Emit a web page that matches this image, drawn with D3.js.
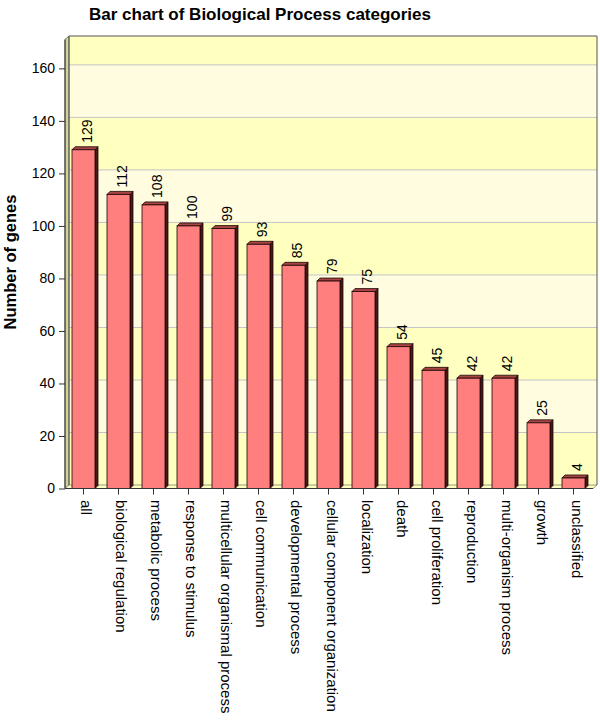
<!DOCTYPE html>
<html>
<head>
<meta charset="utf-8">
<script src="https://cdn.jsdelivr.net/npm/d3@7"></script>
<style>
  body { margin: 0; background: #fff; }
  text { font-family: "Liberation Sans", Arial, sans-serif; fill: #000; }
</style>
</head>
<body>
<svg id="chart" width="600" height="726"></svg>
<script>
let categories = ["all", "biological regulation", "metabolic process", "response to stimulus",
    "multicellular organismal process", "cell communication", "developmental process",
    "cellular component organization", "localization", "death", "cell proliferation",
    "reproduction", "multi-organism process", "growth", "unclassified"];
let counts = [129, 112, 108, 100, 99, 93, 85, 79, 75, 54, 45, 42, 42, 25, 4];
let yTicks = [0, 20, 40, 60, 80, 100, 120, 140, 160];

let svg = d3.select("#chart");
let g = svg.append("g");

// depth of the fake 3d back plane
let dx = 4, dy = -3.5;
let pLeft = 65, pRight = 593, pBottom = 488.5, pTop = 39.5;

let x = d3.scaleBand()
    .domain(categories)
    .range([pLeft, pRight - 1])
    .paddingInner(0.343)
    .paddingOuter(0.2);
let y = d3.scaleLinear()
    .domain([0, 171])
    .range([pBottom, pTop]);

// title
svg.append("text")
    .attr("x", 260).attr("y", 20)
    .attr("text-anchor", "middle")
    .style("font-weight", "bold")
    .style("font-size", "17px")
    .text("Bar chart of Biological Process categories");

// back plane with alternating bands
let bandEdges = yTicks.concat([171]);
for (let i = 0; i < bandEdges.length - 1; i++) {
    let y0 = y(bandEdges[i]) + dy, y1 = y(bandEdges[i + 1]) + dy;
    g.append("rect")
        .attr("x", pLeft + dx).attr("y", y1)
        .attr("width", pRight - pLeft).attr("height", y0 - y1)
        .style("fill", i % 2 === 0 ? "#ffffbf" : "#fffce0");
}
g.selectAll(".grid")
    .data(yTicks.slice(1))
    .enter().append("line")
    .attr("x1", pLeft + dx).attr("x2", pRight + dx)
    .attr("y1", d => y(d) + dy).attr("y2", d => y(d) + dy)
    .style("stroke", "#c4c4c4");

// left wall and floor
g.append("path")
    .attr("d", d3.line()([[pLeft, pTop], [pLeft + dx, pTop + dy], [pLeft + dx, pBottom + dy], [pLeft, pBottom]]) + "Z")
    .style("fill", "#d2d29a").style("stroke", "#7a7a6a");
g.append("path")
    .attr("d", d3.line()([[pLeft, pBottom], [pLeft + dx, pBottom + dy], [pRight + dx, pBottom + dy], [pRight, pBottom]]) + "Z")
    .style("fill", "#ffffbf").style("stroke", "#9a9a80");
// back frame
g.append("path")
    .attr("d", d3.line()([[pLeft + dx, pBottom + dy], [pLeft + dx, pTop + dy], [pRight + dx, pTop + dy], [pRight + dx, pBottom + dy]]))
    .style("fill", "none").style("stroke", "#555");

// bars
let bw = x.bandwidth(), side = 3;
let bars = g.append("g").selectAll("g")
    .data(categories)
    .enter().append("g");
bars.append("path")
    .attr("d", (d, i) => {
        let x0 = x(d) + bw, yt = y(counts[i]);
        return d3.line()([[x0, yt], [x0 + side, yt - side], [x0 + side, pBottom - side], [x0, pBottom]]) + "Z";
    })
    .style("fill", "#4a1818").style("stroke", "#1a0505").style("stroke-width", 0.8);
bars.append("path")
    .attr("d", (d, i) => {
        let x0 = x(d), yt = y(counts[i]);
        return d3.line()([[x0, yt], [x0 + side, yt - side], [x0 + bw + side, yt - side], [x0 + bw, yt]]) + "Z";
    })
    .style("fill", "#a84444").style("stroke", "#1a0505").style("stroke-width", 0.8);
bars.append("rect")
    .attr("x", d => x(d))
    .attr("y", (d, i) => y(counts[i]))
    .attr("width", bw)
    .attr("height", (d, i) => pBottom - y(counts[i]))
    .style("fill", "#ff7f7f").style("stroke", "#1a0505").style("stroke-width", 0.8);

// value labels
bars.append("text")
    .attr("transform", (d, i) => "translate(" + (x(d) + bw / 2 + 8.5) + "," + (y(counts[i]) - side - 4) + ") rotate(-90)")
    .style("font-size", "14px")
    .text((d, i) => counts[i]);

// y axis
let axisY = g.append("g")
    .attr("transform", "translate(" + pLeft + ",0)")
    .call(d3.axisLeft(y).tickValues(yTicks).tickSize(6).tickPadding(4));
axisY.select(".domain").remove();
axisY.append("line")
    .attr("y1", pTop).attr("y2", pBottom)
    .style("stroke", "#333");
axisY.selectAll(".tick line").style("stroke", "#333");
axisY.selectAll(".tick text")
    .style("font-size", "14px")
    .style("font-family", "'Liberation Sans', Arial, sans-serif")
    .attr("fill", "#000");

// x axis
let axisX = g.append("g")
    .attr("transform", "translate(0," + pBottom + ")")
    .call(d3.axisBottom(x).tickSize(6).tickSizeOuter(0));
axisX.select(".domain").attr("d", "M" + pLeft + ",0H" + pRight).style("stroke", "#333");
axisX.selectAll(".tick line").style("stroke", "#333");
axisX.selectAll(".tick text")
    .attr("transform", "rotate(90)")
    .attr("x", 11.5).attr("y", 2)
    .attr("dy", "0")
    .attr("text-anchor", "start")
    .style("font-size", "15px")
    .style("font-family", "'Liberation Sans', Arial, sans-serif")
    .attr("fill", "#000");

// y axis title
svg.append("text")
    .attr("transform", "translate(16,262) rotate(-90)")
    .attr("text-anchor", "middle")
    .style("font-weight", "bold")
    .style("font-size", "16.5px")
    .text("Number of genes");
</script>
</body>
</html>
